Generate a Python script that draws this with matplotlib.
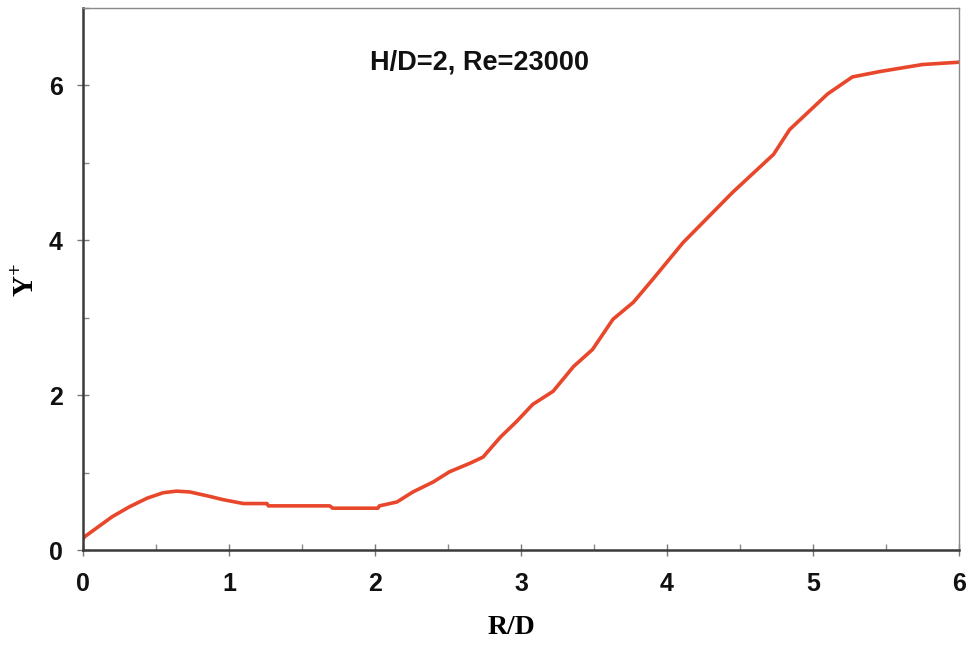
import matplotlib
matplotlib.use('Agg')
import numpy as np
from matplotlib import pyplot as plt
from matplotlib.ticker import MultipleLocator

# curve
r_d = [0.0, 0.01, 0.2, 0.32, 0.44, 0.55, 0.64, 0.73, 0.85, 0.96, 1.07,
       1.10, 1.26, 1.27, 1.69, 1.71, 2.02, 2.03, 2.15, 2.26, 2.40, 2.51,
       2.65, 2.74, 2.86, 2.97, 3.08, 3.22, 3.36, 3.49, 3.63, 3.77, 3.90,
       4.11, 4.45, 4.73, 4.84, 5.10, 5.27, 5.46, 5.75, 6.0]
y_plus = [0.14, 0.17, 0.43, 0.56, 0.67, 0.74, 0.76, 0.75, 0.70, 0.65, 0.61,
          0.60, 0.60, 0.57, 0.57, 0.54, 0.54, 0.57, 0.62, 0.75, 0.88, 1.01,
          1.12, 1.20, 1.46, 1.66, 1.88, 2.05, 2.37, 2.59, 2.98, 3.20, 3.49,
          3.97, 4.62, 5.11, 5.43, 5.89, 6.11, 6.18, 6.27, 6.30]

x_ticks = [0, 1, 2, 3, 4, 5, 6]
y_ticks = [0, 2, 4, 6]
title = 'H/D=2, Re=23000'

plt.rcParams['mathtext.fontset'] = 'custom'
plt.rcParams['mathtext.bf'] = 'Liberation Serif:bold'
plt.rcParams['mathtext.rm'] = 'Liberation Serif:bold'

fig = plt.figure(figsize=(9.69, 6.5), dpi=100)
ax = fig.add_axes([83/969, 1 - 550/650, (959 - 83)/969, (550 - 8)/650])

ax.plot(r_d, y_plus, color='#e8472b', lw=2.6, solid_capstyle='round')

ax.set_xlim(0, 6)
ax.set_ylim(0, 7)
ax.set_xticks(x_ticks)
ax.set_yticks(y_ticks)
ax.xaxis.set_minor_locator(MultipleLocator(0.5))
ax.yaxis.set_minor_locator(MultipleLocator(1))

for s in ['left', 'bottom']:
    ax.spines[s].set_color('#3a3a3a')
    ax.spines[s].set_linewidth(1.8)
for s in ['top', 'right']:
    ax.spines[s].set_color('#8a8a8a')
    ax.spines[s].set_linewidth(1.0)

ax.tick_params(which='major', direction='inout', length=9, width=1, color='#777777')
ax.tick_params(which='minor', direction='in', length=4, width=1, color='#888888')
ax.tick_params(axis='x', which='major', pad=11)
ax.tick_params(axis='y', which='major', pad=10)

for lab in ax.get_xticklabels() + ax.get_yticklabels():
    lab.set_fontfamily('Liberation Sans')
    lab.set_fontweight('bold')
    lab.set_fontsize(18)
    lab.set_color('#111111')

fig.text(511/969, 1 - 628/650, 'R/D', ha='center', va='center',
         fontfamily='Liberation Serif', fontweight='bold', fontsize=20)
fig.text(26/969, 1 - 280/650, r'$\mathbf{Y}^{\mathbf{+}}$', ha='center', va='center',
         rotation=90, fontsize=21)

fig.text(479/969, 1 - 62/650, title, ha='center', va='center',
         fontfamily='Liberation Sans', fontweight='bold', fontsize=19.5, color='#111111')

fig.savefig('out.png', dpi=100, facecolor='white')
